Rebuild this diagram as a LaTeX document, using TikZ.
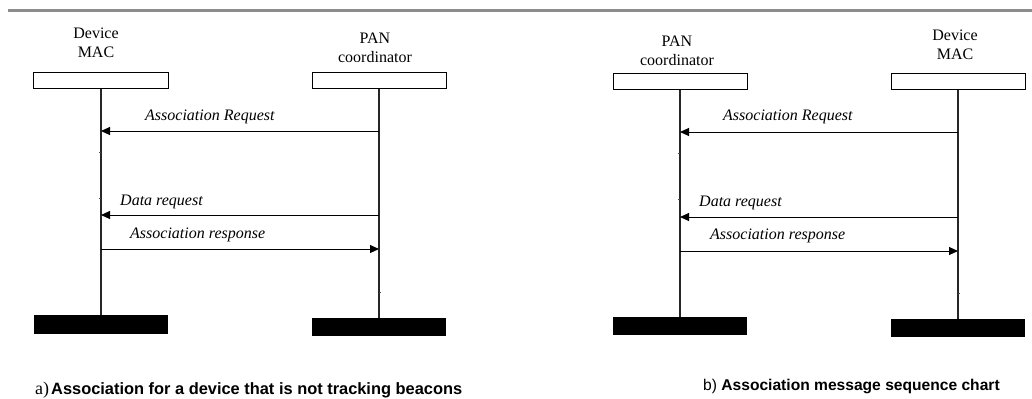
\documentclass[tikz,border=0pt]{standalone}
\usepackage{fontspec}
\setmainfont{Liberation Serif}
\newfontfamily\capfont{Liberation Sans}
\usetikzlibrary{arrows.meta}
\begin{document}
\begin{tikzpicture}[x=1bp,y=-1bp,
  headbox/.style={draw=black,line width=1bp,minimum width=134bp,minimum height=16bp,inner sep=0pt,fill=white},
  footbar/.style={fill=black,draw=none,minimum width=134bp,minimum height=18bp,inner sep=0pt},
  lifeline/.style={draw=black!85,line width=1.1bp},
  tickmark/.style={draw=black!70,line width=0.8bp},
  msgarrow/.style={draw=black,line width=1bp,-{Triangle[length=9bp,width=8bp]}},
  partlabel/.style={font=\fontsize{16bp}{19bp}\selectfont,align=center,inner sep=0pt},
  msglabel/.style={font=\fontsize{16bp}{19bp}\selectfont\itshape,inner sep=0pt,anchor=west},
  captext/.style={inner sep=0pt,anchor=west}
]
\useasboundingbox (0,0) rectangle (1032,398);
\draw[line width=3bp,black!45] (8,10) -- (1032,10);

% ---------- left chart ----------
\node[partlabel] (tDA) at (96,43) {Device\\MAC};
\node[partlabel] (tPA) at (375,47.5) {PAN\\coordinator};
\node[headbox] (hDA) at (101,80) {};
\node[headbox] (hPA) at (379,80) {};
\node[footbar,minimum height=19bp] (fDA) at (101,324.5) {};
\node[footbar] (fPA) at (379,327) {};
\draw[lifeline] (hDA.south) -- (fDA.north);
\draw[lifeline] (hPA.south) -- (fPA.north);
\coordinate (a1r) at (379,131); \coordinate (a1l) at (101,131);
\coordinate (a2r) at (379,215); \coordinate (a2l) at (101,215);
\coordinate (a3l) at (101,249); \coordinate (a3r) at (379,249);
\draw[msgarrow] (a1r) -- (a1l);
\draw[msgarrow] (a2r) -- (a2l);
\draw[msgarrow] (a3l) -- (a3r);
\node[msglabel] (lA1) at (145,117) {Association Request};
\node[msglabel] (lA2) at (120,202) {Data request};
\node[msglabel] (lA3) at (130,235) {Association response};
\draw[tickmark] (101,152) -- (99,152);
\draw[tickmark] (101,198) -- (99,198);
\draw[tickmark] (379,292) -- (381,292);

% ---------- right chart ----------
\node[partlabel] (tPB) at (677,51) {PAN\\coordinator};
\node[partlabel] (tDB) at (955,45) {Device\\MAC};
\node[headbox] (hPB) at (680,81) {};
\node[headbox] (hDB) at (958,81) {};
\node[footbar] (fPB) at (680,326) {};
\node[footbar] (fDB) at (958,328) {};
\draw[lifeline] (hPB.south) -- (fPB.north);
\draw[lifeline] (hDB.south) -- (fDB.north);
\coordinate (b1r) at (958,132); \coordinate (b1l) at (680,132);
\coordinate (b2r) at (958,217); \coordinate (b2l) at (680,217);
\coordinate (b3l) at (680,251); \coordinate (b3r) at (958,251);
\draw[msgarrow] (b1r) -- (b1l);
\draw[msgarrow] (b2r) -- (b2l);
\draw[msgarrow] (b3l) -- (b3r);
\node[msglabel] (lB1) at (723,117) {Association Request};
\node[msglabel] (lB2) at (699,203) {Data request};
\node[msglabel] (lB3) at (710,236) {Association response};
\draw[tickmark] (680,153) -- (678,153);
\draw[tickmark] (680,199) -- (678,199);
\draw[tickmark] (958,293) -- (960,293);

% ---------- captions ----------
\node[captext] (capA) at (35,390) {\fontsize{18bp}{19bp}\selectfont a)\kern2bp\fontsize{16.4bp}{19bp}\selectfont\capfont\bfseries Association for a device that is not tracking beacons};
\node[captext] (capB) at (703,386) {\fontsize{15.6bp}{19bp}\selectfont\capfont b) \bfseries Association message sequence chart};
\end{tikzpicture}
\end{document}
